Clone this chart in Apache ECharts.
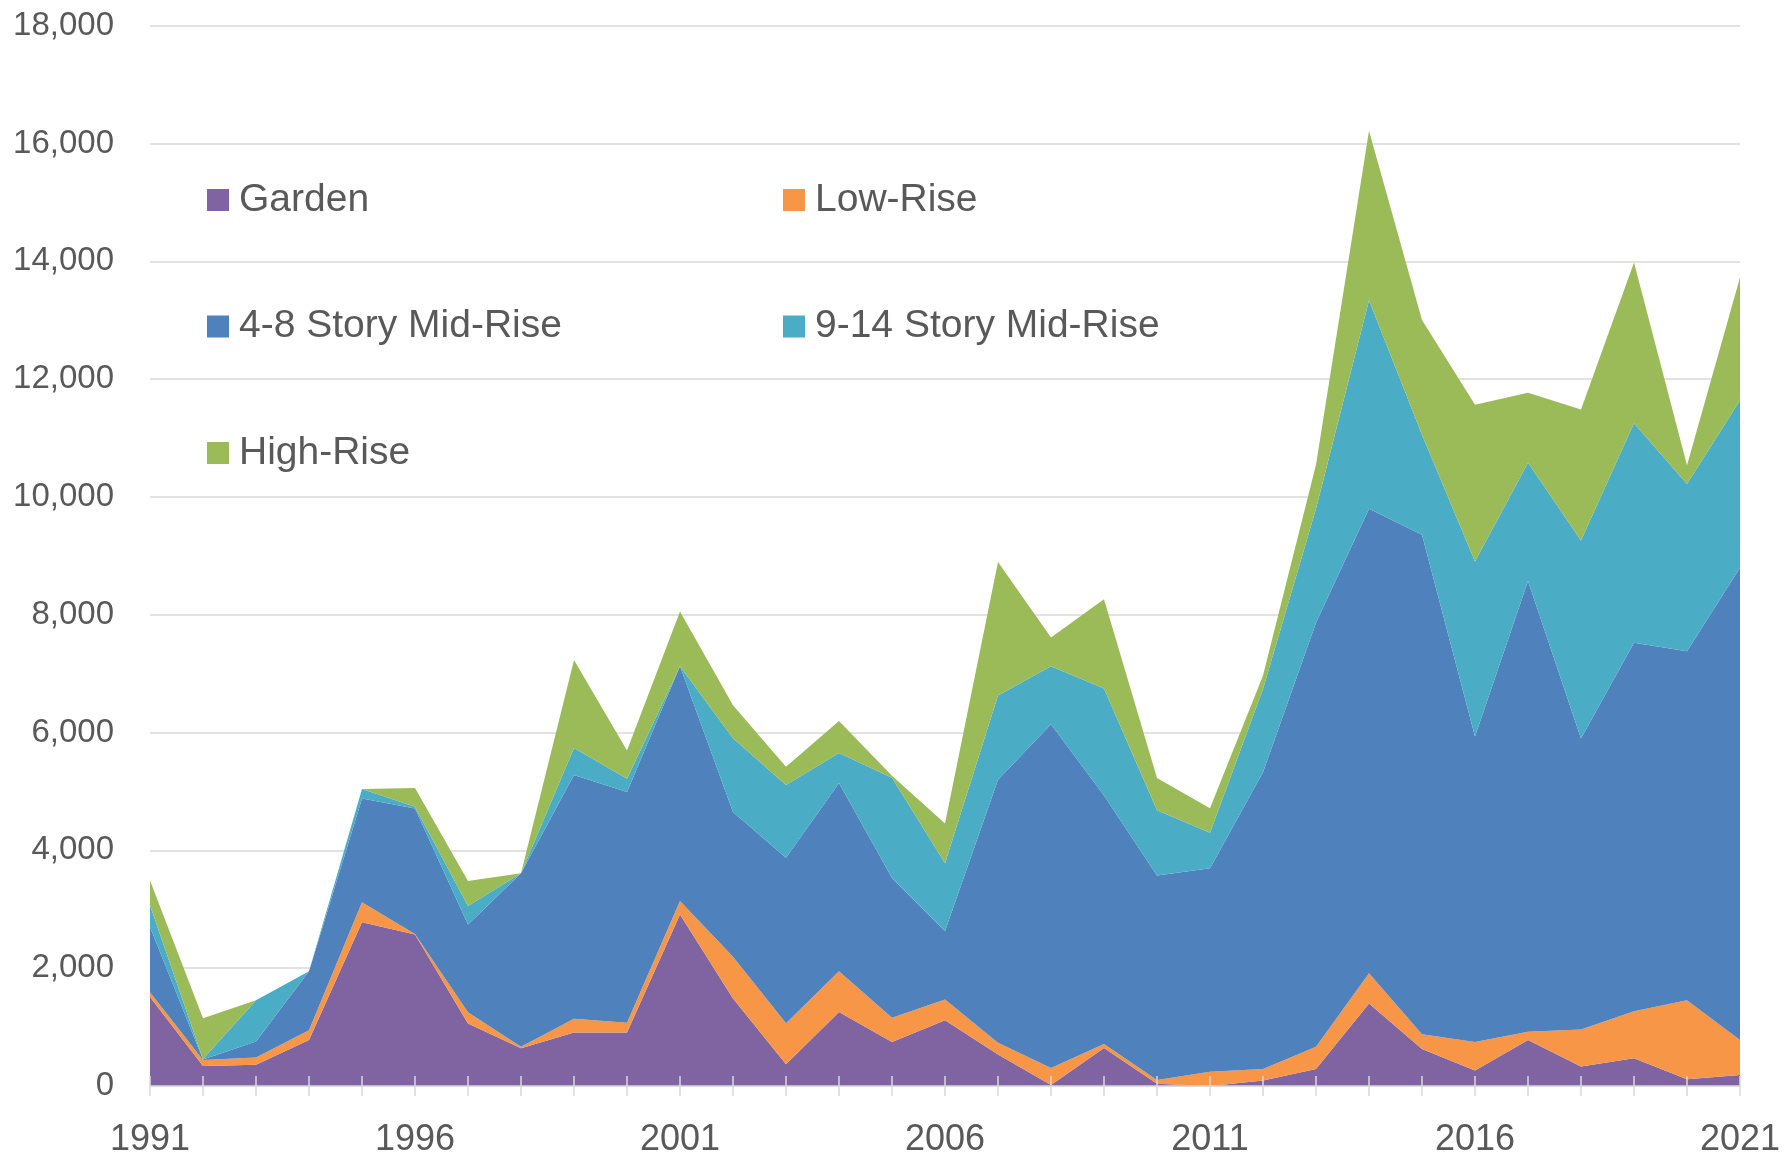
<!DOCTYPE html>
<html>
<head>
<meta charset="utf-8">
<script src="https://cdn.jsdelivr.net/npm/echarts@6/dist/echarts.min.js"></script>
<style>
html,body{margin:0;padding:0;background:#fff;}
#chart{width:1785px;height:1158px;}
</style>
</head>
<body>
<div id="chart"></div>
<script>
var years = ['1991','1992','1993','1994','1995','1996','1997','1998','1999','2000',
  '2001','2002','2003','2004','2005','2006','2007','2008','2009','2010',
  '2011','2012','2013','2014','2015','2016','2017','2018','2019','2020','2021'];

var garden   = [1510, 340, 360, 780, 2780, 2570, 1060, 640, 910, 910,
  2910, 1485, 370, 1255, 745, 1115, 535, 15, 645, 40,
  0, 95, 290, 1400, 630, 265, 780, 330, 470, 115, 185];
var lowRise  = [80, 100, 125, 165, 340, 10, 190, 25, 230, 165,
  230, 710, 695, 695, 415, 355, 200, 290, 70, 60,
  240, 195, 375, 515, 250, 480, 140, 630, 800, 1340, 595];
var mid48    = [1110, 10, 270, 1005, 1760, 2130, 1490, 2945, 4140, 3915,
  3985, 2455, 2810, 3195, 2370, 1160, 4465, 5835, 4215, 3475,
  3455, 5035, 7200, 7885, 8480, 5190, 7655, 4940, 6255, 5925, 8020];
var mid914   = [370, 10, 700, 0, 160, 30, 315, 0, 460, 225,
  0, 1255, 1235, 510, 1705, 1150, 1430, 985, 1820, 1105,
  605, 1415, 1935, 3540, 1695, 2970, 2005, 3360, 3725, 2840, 2840];
var highRise = [420, 690, 0, 0, 0, 320, 425, 0, 1490, 480,
  930, 560, 310, 540, 30, 675, 2265, 490, 1515, 550,
  415, 230, 745, 2875, 1950, 2660, 1190, 2225, 2730, 320, 2085];

var seriesNames = ['Garden','Low-Rise','4-8 Story Mid-Rise','9-14 Story Mid-Rise','High-Rise'];
var seriesColors = ['#8064A2','#F79646','#4F81BD','#4BACC6','#9BBB59'];
var seriesData = [garden, lowRise, mid48, mid914, highRise];

var FONT = '"Liberation Sans", Arial, sans-serif';
var TXT = '#595959';

var chart = echarts.init(document.getElementById('chart'));

var legendCommon = {
  orient: 'vertical',
  top: 175,
  icon: 'rect',
  itemWidth: 22,
  itemHeight: 22,
  itemGap: 86.5,
  textStyle: {fontFamily: FONT, fontSize: 39, color: TXT, lineHeight: 40, padding: [0,0,0,5]}
};

var option = {
  animation: false,
  color: seriesColors,
  grid: {left: 150, right: 45, top: 25.7, bottom: 71},
  legend: [
    Object.assign({left: 202, data: ['Garden','4-8 Story Mid-Rise','High-Rise']}, legendCommon),
    Object.assign({left: 778, data: ['Low-Rise','9-14 Story Mid-Rise']}, legendCommon)
  ],
  xAxis: [{
    type: 'category',
    data: years,
    boundaryGap: false,
    z: 5,
    axisLine: {show: true, lineStyle: {color: '#D9D9D9', width: 1.5}},
    axisTick: {show: true, interval: 0, length: 10, lineStyle: {color: '#D9D9D9', width: 1.5}},
    axisLabel: {interval: 4, margin: 36, fontFamily: FONT, fontSize: 36, color: TXT, showMaxLabel: true},
    splitLine: {show: false}
  }, {
    type: 'category',
    data: years,
    boundaryGap: false,
    position: 'bottom',
    z: 5,
    axisLine: {show: false},
    axisTick: {show: true, inside: true, interval: 0, length: 10, lineStyle: {color: '#D9D9D9', width: 1.5}},
    axisLabel: {show: false},
    splitLine: {show: false}
  }],
  yAxis: {
    type: 'value',
    min: 0, max: 18000, interval: 2000,
    axisLine: {show: false},
    axisTick: {show: false},
    axisLabel: {
      margin: 36, fontFamily: FONT, fontSize: 33, color: TXT,
      formatter: function (v) { return v.toLocaleString('en-US'); }
    },
    splitLine: {lineStyle: {color: '#D9D9D9', width: 1.5}}
  },
  series: seriesNames.map(function (name, i) {
    return {
      name: name,
      type: 'line',
      stack: 'total',
      data: seriesData[i],
      symbol: 'none',
      lineStyle: {width: 0},
      areaStyle: {color: seriesColors[i], opacity: 1},
      itemStyle: {color: seriesColors[i]}
    };
  })
};
chart.setOption(option);
</script>
</body>
</html>
